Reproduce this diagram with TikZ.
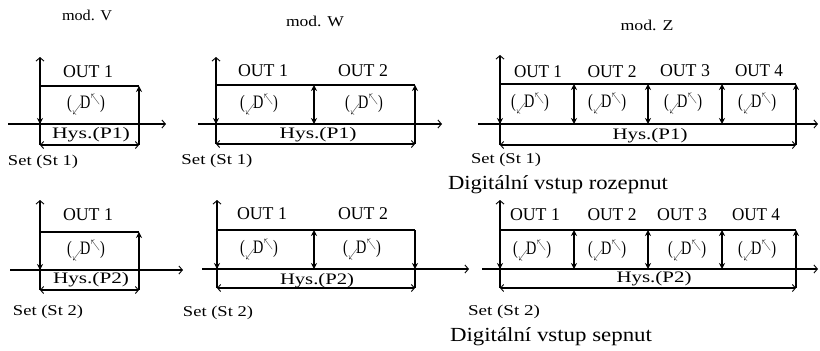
\documentclass[tikz,border=0pt]{standalone}
\usepackage{fontspec}
\setmainfont{Liberation Serif}
\usetikzlibrary{arrows.meta}
\newcommand\wtext[2]{\resizebox{#1}{\height}{#2}}
\newcommand\dsym{\wtext{38pt}{(\kern1pt\raisebox{-4pt}{\scalebox{0.7}{$\swarrow$}}\kern-2pt D\kern0.5pt\raisebox{6pt}{\scalebox{0.7}{$\nwarrow$}}\kern0.5pt)}}
\tikzset{
  axis/.style={line width=1.2pt,-{Straight Barb[length=3.5pt,width=8pt,line width=0.9pt]}},
  ln/.style={line width=1.2pt},
  varr/.style={line width=1.2pt,-{Stealth[length=6pt,width=6pt]}},
  dvarr/.style={line width=1.2pt,{Stealth[length=6pt,width=6pt]}-{Stealth[length=6pt,width=6pt]}},
  hys/.style={line width=1.2pt,{Straight Barb[length=3pt,width=7pt,line width=0.9pt]}-{Straight Barb[length=3pt,width=7pt,line width=0.9pt]}},
  lbl/.style={inner sep=0pt,font=\fontsize{15}{15}\selectfont},
  hyl/.style={inner sep=0pt,font=\fontsize{16}{16}\selectfont},
  outl/.style={inner sep=0pt,font=\fontsize{18}{18}\selectfont},
  dl/.style={inner sep=0pt,font=\fontsize{19}{19}\selectfont},
  big/.style={inner sep=0pt,font=\fontsize{20}{20}\selectfont},
}
\begin{document}
\begin{tikzpicture}[x=1pt,y=-1pt]
\useasboundingbox[fill=white] (0,0) rectangle (820,351);

%%%%%%%%%%%%%%%% top row
\node[lbl] (mV) at (87,15) {\wtext{50pt}{mod. V}};
\node[lbl] (mW) at (315,21) {\wtext{58pt}{mod. W}};
\node[lbl] (mZ) at (647,25) {\wtext{53pt}{mod. Z}};

% --- top V
\coordinate (aV1l) at (8,124); \coordinate (aV1r) at (166,124);
\coordinate (yV1t) at (40,57); \coordinate (yV1b) at (40,145);
\coordinate (yV1a) at (40,124); \coordinate (yV1u) at (40,86);
\coordinate (rV1t) at (139,86); \coordinate (rV1b) at (139,145);
\draw[axis] (aV1l) -- (aV1r);
\draw[axis] (yV1b) -- (yV1t);
\draw[ln] (yV1u) -- (rV1t);
\draw[varr] (yV1u) -- (yV1a);
\draw[varr] (rV1b) -- (rV1t);
\draw[hys] (yV1b) -- (rV1b);
\node[outl] (oV1a) at (88,72) {\wtext{50pt}{OUT 1}};
\node[dl] (dV1a) at (86,104) {\dsym};
\node[hyl] (hV1) at (91,135) {\wtext{78pt}{Hys.(P1)}};
\node[lbl] (sV1) at (43,162) {\wtext{70pt}{Set (St 1)}};

% --- top W
\coordinate (aW1l) at (198,124); \coordinate (aW1r) at (442,124);
\coordinate (yW1t) at (216,57); \coordinate (yW1b) at (216,144);
\coordinate (yW1a) at (216,124); \coordinate (yW1u) at (216,85);
\coordinate (dW1t) at (314,85); \coordinate (dW1b) at (314,124);
\coordinate (rW1t) at (415,85); \coordinate (rW1b) at (415,144);
\draw[axis] (aW1l) -- (aW1r);
\draw[axis] (yW1b) -- (yW1t);
\draw[ln] (yW1u) -- (rW1t);
\draw[varr] (yW1u) -- (yW1a);
\draw[dvarr] (dW1t) -- (dW1b);
\draw[varr] (rW1b) -- (rW1t);
\draw[hys] (yW1b) -- (rW1b);
\node[outl] (oW1a) at (263,71) {\wtext{50pt}{OUT 1}};
\node[outl] (oW1b) at (363,71) {\wtext{50pt}{OUT 2}};
\node[dl] (dW1a) at (259,104) {\dsym};
\node[dl] (dW1b) at (364,104) {\dsym};
\node[hyl] (hW1) at (318,135) {\wtext{77pt}{Hys.(P1)}};
\node[lbl] (sW1) at (217,161) {\wtext{71pt}{Set (St 1)}};

% --- top Z
\coordinate (aZ1l) at (478,124); \coordinate (aZ1r) at (818,124);
\coordinate (yZ1t) at (500,55); \coordinate (yZ1b) at (500,145);
\coordinate (yZ1a) at (500,124); \coordinate (yZ1u) at (500,84);
\coordinate (dZ1at) at (574,84); \coordinate (dZ1ab) at (574,124);
\coordinate (dZ1bt) at (648,84); \coordinate (dZ1bb) at (648,124);
\coordinate (dZ1ct) at (722,84); \coordinate (dZ1cb) at (722,124);
\coordinate (rZ1t) at (796,84); \coordinate (rZ1b) at (796,145);
\draw[axis] (aZ1l) -- (aZ1r);
\draw[axis] (yZ1b) -- (yZ1t);
\draw[ln] (yZ1u) -- (rZ1t);
\draw[varr] (yZ1u) -- (yZ1a);
\draw[dvarr] (dZ1at) -- (dZ1ab);
\draw[dvarr] (dZ1bt) -- (dZ1bb);
\draw[dvarr] (dZ1ct) -- (dZ1cb);
\draw[varr] (rZ1b) -- (rZ1t);
\draw[hys] (yZ1b) -- (rZ1b);
\node[outl] (oZ1a) at (538,72) {\wtext{48pt}{OUT 1}};
\node[outl] (oZ1b) at (612,72) {\wtext{49pt}{OUT 2}};
\node[outl] (oZ1c) at (685,71) {\wtext{50pt}{OUT 3}};
\node[outl] (oZ1d) at (759,71) {\wtext{48pt}{OUT 4}};
\node[dl] (dZ1a) at (530,103) {\dsym};
\node[dl] (dZ1b) at (607,103) {\dsym};
\node[dl] (dZ1c) at (683,103) {\dsym};
\node[dl] (dZ1d) at (757,103) {\dsym};
\node[hyl] (hZ1) at (650,136) {\wtext{75pt}{Hys.(P1)}};
\node[lbl] (sZ1) at (506,160) {\wtext{70pt}{Set (St 1)}};
\node[big] (gZ1) at (558,185) {\wtext{220pt}{Digitální vstup rozepnut}};

%%%%%%%%%%%%%%%% bottom row
% --- bottom V
\coordinate (aV2l) at (10,270); \coordinate (aV2r) at (183,270);
\coordinate (yV2t) at (40,200); \coordinate (yV2b) at (40,290);
\coordinate (yV2a) at (40,270); \coordinate (yV2u) at (40,232);
\coordinate (rV2t) at (139,232); \coordinate (rV2b) at (139,290);
\draw[axis] (aV2l) -- (aV2r);
\draw[axis] (yV2b) -- (yV2t);
\draw[ln] (yV2u) -- (rV2t);
\draw[varr] (yV2u) -- (yV2a);
\draw[varr] (rV2b) -- (rV2t);
\draw[hys] (yV2b) -- (rV2b);
\node[outl] (oV2a) at (88,215) {\wtext{50pt}{OUT 1}};
\node[dl] (dV2a) at (86,250) {\dsym};
\node[hyl] (hV2) at (91,280) {\wtext{76pt}{Hys.(P2)}};
\node[lbl] (sV2) at (48,312) {\wtext{70pt}{Set (St 2)}};

% --- bottom W
\coordinate (aW2l) at (202,269); \coordinate (aW2r) at (469,269);
\coordinate (yW2t) at (217,200); \coordinate (yW2b) at (217,288);
\coordinate (yW2a) at (217,269); \coordinate (yW2u) at (217,230);
\coordinate (dW2t) at (314,230); \coordinate (dW2b) at (314,269);
\coordinate (rW2t) at (415,230); \coordinate (rW2a) at (415,269); \coordinate (rW2b) at (415,288);
\draw[axis] (aW2l) -- (aW2r);
\draw[axis] (yW2b) -- (yW2t);
\draw[ln] (yW2u) -- (rW2t);
\draw[varr] (yW2u) -- (yW2a);
\draw[dvarr] (dW2t) -- (dW2b);
\draw[varr] (rW2t) -- (rW2a);
\draw[ln] (rW2a) -- (rW2b);
\draw[hys] (yW2b) -- (rW2b);
\node[outl] (oW2a) at (262,214) {\wtext{50pt}{OUT 1}};
\node[outl] (oW2b) at (363,214) {\wtext{50pt}{OUT 2}};
\node[dl] (dW2a) at (259,249) {\dsym};
\node[dl] (dW2b) at (362,249) {\dsym};
\node[hyl] (hW2) at (317,281) {\wtext{74pt}{Hys.(P2)}};
\node[lbl] (sW2) at (218,313) {\wtext{70pt}{Set (St 2)}};

% --- bottom Z
\coordinate (aZ2l) at (482,269); \coordinate (aZ2r) at (818,269);
\coordinate (yZ2t) at (500,200); \coordinate (yZ2b) at (500,288);
\coordinate (yZ2a) at (500,269); \coordinate (yZ2u) at (500,230);
\coordinate (dZ2at) at (574,230); \coordinate (dZ2ab) at (574,269);
\coordinate (dZ2bt) at (648,230); \coordinate (dZ2bb) at (648,269);
\coordinate (dZ2ct) at (722,230); \coordinate (dZ2cb) at (722,269);
\coordinate (rZ2t) at (796,230); \coordinate (rZ2b) at (796,288);
\draw[axis] (aZ2l) -- (aZ2r);
\draw[axis] (yZ2b) -- (yZ2t);
\draw[ln] (yZ2u) -- (rZ2t);
\draw[varr] (yZ2u) -- (yZ2a);
\draw[dvarr] (dZ2at) -- (dZ2ab);
\draw[dvarr] (dZ2bt) -- (dZ2bb);
\draw[dvarr] (dZ2ct) -- (dZ2cb);
\draw[varr] (rZ2b) -- (rZ2t);
\draw[hys] (yZ2b) -- (rZ2b);
\node[outl] (oZ2a) at (535,215) {\wtext{50pt}{OUT 1}};
\node[outl] (oZ2b) at (612,215) {\wtext{49pt}{OUT 2}};
\node[outl] (oZ2c) at (682,215) {\wtext{50pt}{OUT 3}};
\node[outl] (oZ2d) at (756,215) {\wtext{48pt}{OUT 4}};
\node[dl] (dZ2a) at (532,250) {\dsym};
\node[dl] (dZ2b) at (607,250) {\dsym};
\node[dl] (dZ2c) at (687,250) {\dsym};
\node[dl] (dZ2d) at (757,250) {\dsym};
\node[hyl] (hZ2) at (654,279) {\wtext{75pt}{Hys.(P2)}};
\node[lbl] (sZ2) at (504,312) {\wtext{72pt}{Set (St 2)}};
\node[big] (gZ2) at (551,337) {\wtext{202pt}{Digitální vstup sepnut}};
\end{tikzpicture}
\end{document}
